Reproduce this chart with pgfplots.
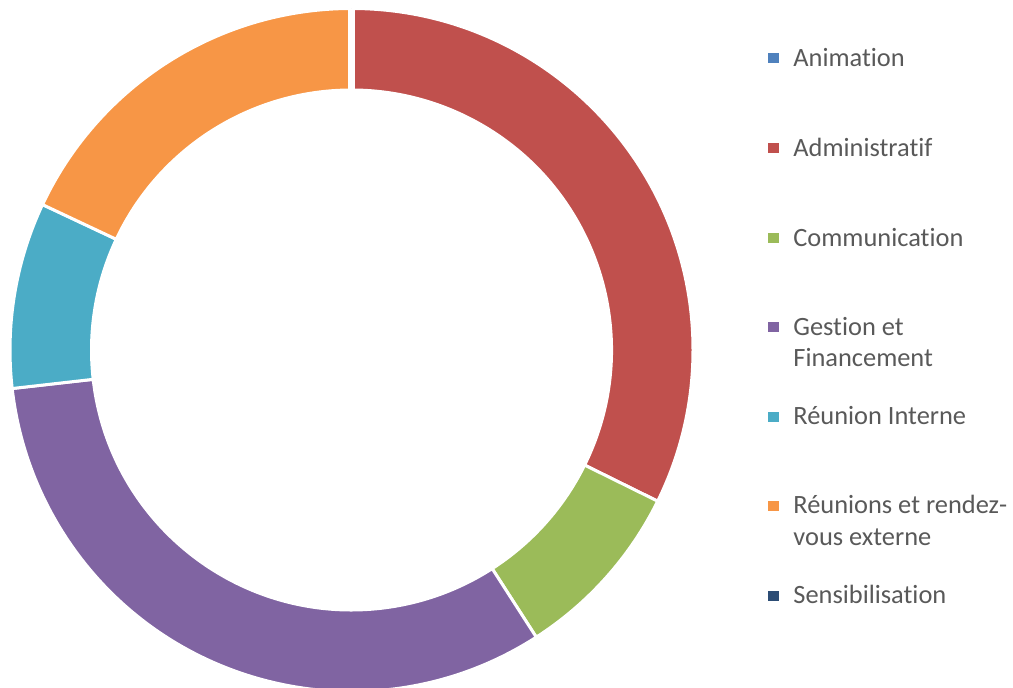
\documentclass[border=0pt]{standalone}
\usepackage{pgfplots}
\usepackage{pgfplotstable}
\pgfplotsset{compat=1.18}
\usepackage{fontspec}
\setmainfont{Carlito}[Ligatures={NoCommon}]
\definecolor{c0}{HTML}{4F81BD}
\definecolor{c1}{HTML}{C0504D}
\definecolor{c2}{HTML}{9BBB59}
\definecolor{c3}{HTML}{8064A2}
\definecolor{c4}{HTML}{4BACC6}
\definecolor{c5}{HTML}{F79646}
\definecolor{c6}{HTML}{2C4D75}
\definecolor{legtext}{HTML}{595959}
\pgfplotstableread{
idx value
0 0
1 32.3
2 8.6
3 32.3
4 8.8
5 18.0
6 0
}\data
\pgfplotstablecreatecol[create col/expr accum={\pgfmathaccuma + \thisrow{value}}{0}]{cum}{\data}
\begin{document}
\begin{tikzpicture}
\path[use as bounding box] (0,0) rectangle (506.5bp,344bp);
\begin{axis}[
  at={(175.75bp,169bp)}, anchor=center,
  scale only axis, width=341.5bp, height=341.5bp,
  xmin=-1, xmax=1, ymin=-1, ymax=1,
  hide axis, clip=false,
]
\addplot[
  scatter, only marks, mark=*, mark size=0pt,
  point meta=\thisrow{idx},
  visualization depends on={\thisrow{idx} \as \idx},
  visualization depends on={\thisrow{cum} \as \cum},
  visualization depends on={\thisrow{value} \as \val},
  scatter/@pre marker code/.code={%
    \begin{scope}%
    \pgfmathtruncatemacro\ii{\idx}%
    \pgfmathsetmacro\aend{90-3.6*\cum}%
    \pgfmathsetmacro\astart{90-3.6*(\cum-\val)}%
    \pgfmathsetmacro\lw{\val==0 ? 3.6 : 1.5}%
    \fill[fill=c\ii, draw=white, line width=\lw bp, line join=miter]
      (\astart:170.75bp) arc[start angle=\astart, end angle=\aend, radius=170.75bp]
      -- (\aend:130bp) arc[start angle=\aend, end angle=\astart, radius=130bp] -- cycle;
    \pgfsetstrokeopacity{0}\pgfsetfillopacity{0}%
  },
  scatter/@post marker code/.code={\end{scope}},
] table[x expr=0, y expr=0] {\data};
\end{axis}
\begin{scope}[every node/.style={anchor=base west, inner sep=0pt, text=legtext, font=\fontsize{13.2bp}{15.75bp}\selectfont}]
\def\lx{396.5bp}
\def\mx{386.75bp}
\def\ms{2.6bp}
\fill[c0] (\mx-\ms,{(688-58)*0.5bp-\ms}) rectangle ++(2*\ms,2*\ms);
\node at (\lx,{(688-66)*0.5bp}) {Animation};
\fill[c1] (\mx-\ms,{(688-148)*0.5bp-\ms}) rectangle ++(2*\ms,2*\ms);
\node at (\lx,{(688-156)*0.5bp}) {Administratif};
\fill[c2] (\mx-\ms,{(688-238)*0.5bp-\ms}) rectangle ++(2*\ms,2*\ms);
\node at (\lx,{(688-246)*0.5bp}) {Communication};
\fill[c3] (\mx-\ms,{(688-327)*0.5bp-\ms}) rectangle ++(2*\ms,2*\ms);
\node at (\lx,{(688-335)*0.5bp}) {Gestion et};
\node at (\lx,{(688-366.5)*0.5bp}) {Financement};
\fill[c4] (\mx-\ms,{(688-417)*0.5bp-\ms}) rectangle ++(2*\ms,2*\ms);
\node at (\lx,{(688-424)*0.5bp}) {Réunion Interne};
\fill[c5] (\mx-\ms,{(688-506)*0.5bp-\ms}) rectangle ++(2*\ms,2*\ms);
\node at (\lx,{(688-513)*0.5bp}) {Réunions et rendez-};
\node at (\lx,{(688-545)*0.5bp}) {vous externe};
\fill[c6] (\mx-\ms,{(688-596)*0.5bp-\ms}) rectangle ++(2*\ms,2*\ms);
\node at (\lx,{(688-603)*0.5bp}) {Sensibilisation};
\end{scope}
\end{tikzpicture}
\end{document}
